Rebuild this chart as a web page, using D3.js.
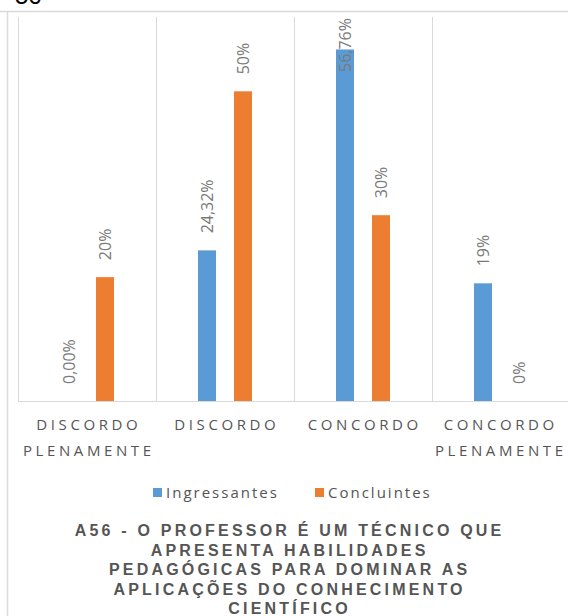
<!DOCTYPE html>
<html>
<head>
<meta charset="utf-8">
<script src="https://cdn.jsdelivr.net/npm/d3@7"></script>
<style>
  html, body { margin: 0; padding: 0; background: #ffffff; }
  svg { display: block; }
</style>
</head>
<body>
<svg id="chart" width="568" height="616"></svg>
<script>
// Survey answers, A56
const categories = [["DISCORDO", "PLENAMENTE"], ["DISCORDO"], ["CONCORDO"], ["CONCORDO", "PLENAMENTE"]];
const seriesNames = ["Ingressantes", "Concluintes"];
const seriesColors = ["#5b9bd5", "#ed7d31"];
const ingressantes = [0, 24.32, 56.76, 19];
const concluintes = [20, 50, 30, 0];
// decimal places shown in each value label
const ingressantesDecimals = [2, 2, 2, 0];
const concluintesDecimals = [0, 0, 0, 0];
const titleLines = [
  "A56 - O PROFESSOR É UM TÉCNICO QUE",
  "APRESENTA HABILIDADES",
  "PEDAGÓGICAS PARA DOMINAR AS",
  "APLICAÇÕES DO CONHECIMENTO",
  "CIENTÍFICO"
];
const yMax = 62;

const svg = d3.select("#chart");
const W = 568, H = 616;
const plot = { left: 18, right: 570, top: 17, bottom: 401 };

// leftover caption number from the page above, cut by the frame
svg.append("text").attr("x", 15).attr("y", 4)
  .attr("font-family", "Liberation Sans, Arial, sans-serif").attr("font-size", 24)
  .attr("fill", "#000").text("56");

// frame lines
svg.append("line").attr("x1", 0).attr("x2", W).attr("y1", 11.5).attr("y2", 11.5)
  .attr("stroke", "#d9d9d9").attr("stroke-width", 1.5);
svg.append("line").attr("x1", 7.5).attr("x2", 7.5).attr("y1", 12).attr("y2", H)
  .attr("stroke", "#dcdcdc").attr("stroke-width", 1.5);

const keys = categories.map(c => c.join(" "));
const x0 = d3.scaleBand().domain(keys).range([plot.left, plot.right]);
const groupWidth = 54;
const x1 = d3.scaleBand().domain(seriesNames).range([0, groupWidth]).paddingInner(0.5);
const y = d3.scaleLinear().domain([0, yMax]).range([plot.bottom, plot.top]);

// category separators
const g = svg.append("g");
keys.forEach(k => {
  g.append("line").attr("x1", x0(k) + 0.5).attr("x2", x0(k) + 0.5)
    .attr("y1", plot.top).attr("y2", plot.bottom)
    .attr("stroke", "#d9d9d9").attr("stroke-width", 1);
});
g.append("line").attr("x1", plot.left).attr("x2", W)
  .attr("y1", plot.bottom + 0.5).attr("y2", plot.bottom + 0.5)
  .attr("stroke", "#d9d9d9").attr("stroke-width", 1.2);

const fmt = (v, d) => v.toFixed(d).replace(".", ",") + "%";
const rows = [];
keys.forEach((k, i) => {
  rows.push({ cat: k, s: 0, v: ingressantes[i], label: fmt(ingressantes[i], ingressantesDecimals[i]) });
  rows.push({ cat: k, s: 1, v: concluintes[i], label: fmt(concluintes[i], concluintesDecimals[i]) });
});
const groupOffset = (x0.bandwidth() - groupWidth) / 2;
const barX = d => x0(d.cat) + groupOffset + x1(seriesNames[d.s]);

g.selectAll("rect.bar").data(rows).join("rect").attr("class", "bar")
  .attr("x", barX)
  .attr("width", x1.bandwidth())
  .attr("y", d => y(d.v))
  .attr("height", d => y(0) - y(d.v))
  .attr("fill", d => seriesColors[d.s]);

// rotated value labels above bars, kept inside the chart frame
const labelGap = 17;
const labels = g.selectAll("text.val").data(rows).join("text").attr("class", "val")
  .attr("font-family", "Open Sans, sans-serif").attr("font-size", 16)
  .attr("fill", "#7a7a7a").attr("dy", "0.35em")
  .text(d => d.label);
labels.each(function (d) {
  const len = this.getComputedTextLength();
  let start = y(d.v) - labelGap;
  if (start - len < plot.top + 1) start = plot.top + 1 + len;
  const cx = barX(d) + x1.bandwidth() / 2;
  d3.select(this).attr("transform", `translate(${cx},${start}) rotate(-90)`);
});

// category labels
const catLS = 3.6;
const catShift = [0, 0, 0, -2];
keys.forEach((k, i) => {
  const t = svg.append("text")
    .attr("font-family", "Open Sans, sans-serif").attr("font-size", 15)
    .attr("fill", "#555555").attr("letter-spacing", catLS)
    .attr("text-anchor", "middle");
  categories[i].forEach((line, j) => {
    t.append("tspan").attr("x", x0(k) + x0.bandwidth() / 2 + catLS / 2 + catShift[i])
      .attr("y", 430 + j * 26).text(line);
  });
});

// legend
const legend = svg.append("g");
const legendItems = [{ x: 153, i: 0 }, { x: 315, i: 1 }];
legendItems.forEach(it => {
  legend.append("rect").attr("x", it.x).attr("y", 488).attr("width", 9).attr("height", 9)
    .attr("fill", seriesColors[it.i]);
  legend.append("text").attr("x", it.x + 13).attr("y", 497.5)
    .attr("font-family", "Open Sans, sans-serif").attr("font-size", 15)
    .attr("letter-spacing", 2).attr("fill", "#555555")
    .text(seriesNames[it.i]);
});

// title
const titleLS = 3.2;
const title = svg.append("text")
  .attr("font-family", "Liberation Sans, Arial, sans-serif").attr("font-size", 16)
  .attr("font-weight", "bold").attr("fill", "#555555")
  .attr("letter-spacing", titleLS).attr("text-anchor", "middle");
titleLines.forEach((line, j) => {
  title.append("tspan").attr("x", 288 + titleLS / 2).attr("y", 536 + j * 19.6).text(line);
});
</script>
</body>
</html>
